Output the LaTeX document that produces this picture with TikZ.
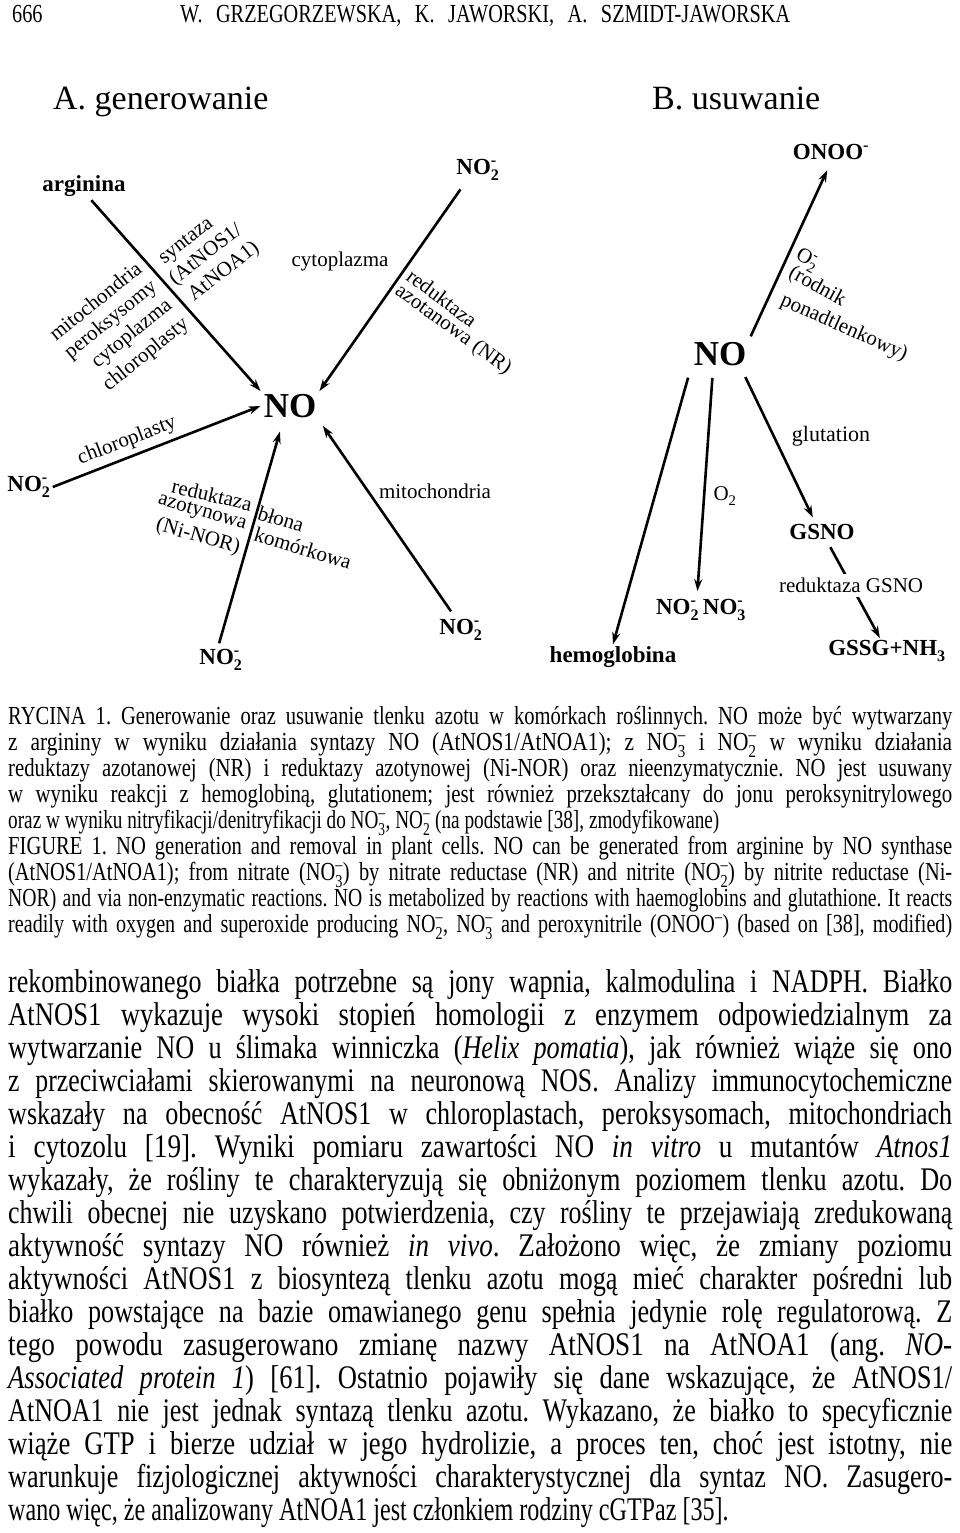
\documentclass[tikz,border=0pt]{standalone}
\usepackage{fontspec}
\usepackage{amsmath}
\usepackage{graphicx}
\usetikzlibrary{arrows.meta}
\setmainfont{Liberation Serif}
\newfontfamily\capfont{Liberation Serif}[FakeStretch=0.74]
\newfontfamily\bodyfont{Liberation Serif}[FakeStretch=0.73]
\newfontfamily\hdrfont{Liberation Serif}[FakeStretch=0.78]
\frenchspacing
\newsavebox\jlbox
\newdimen\jldim
\newcommand\jline[2]{\sbox\jlbox{#2}%
  \ifdim\wd\jlbox>#1\relax\resizebox{#1}{\height}{\usebox\jlbox}%
  \else\jldim=#1\relax\advance\jldim by \wd\jlbox\divide\jldim by 2\relax
    \sbox\jlbox{\makebox[\jldim][s]{#2}}%
    \resizebox{#1}{\height}{\usebox\jlbox}\fi}
\newcommand\chsub[2]{\ensuremath{_{\text{#1}}^{\text{#2}}}}
\newcommand\chsup[1]{\ensuremath{^{\text{#1}}}}
\begin{document}
\begin{tikzpicture}[x=1pt,y=-1pt,
  sp/.style={font=\fontsize{23}{27}\selectfont\bfseries, inner sep=2pt},
  lbl/.style={font=\fontsize{21}{24}\selectfont, inner sep=0.5pt},
  bigno/.style={font=\fontsize{35}{40}\selectfont\bfseries, inner sep=3pt},
  ttl/.style={font=\fontsize{34}{40}\selectfont, anchor=base west, inner sep=0pt},
  arr/.style={line width=2.6pt, -{Stealth[length=12pt,width=8pt]}},
  hdr/.style={font=\hdrfont\fontsize{26}{26}\selectfont, anchor=base west, inner sep=0pt},
  capl/.style={font=\capfont\fontsize{26}{26}\selectfont, anchor=base west, inner sep=0pt},
  bodyl/.style={font=\bodyfont\fontsize{33}{33}\selectfont, anchor=base west, inner sep=0pt}]
\useasboundingbox (0,0) rectangle (960,1533);
\fill[white] (0,0) rectangle (960,1533);

% header
\node[hdr] (pg) at (12,23) {666};
\node[hdr] (au) at (180,23) {\makebox[610pt][s]{W. GRZEGORZEWSKA, K. JAWORSKI, A. SZMIDT-JAWORSKA}};

% titles
\node[ttl] (tA) at (53,110) {A. generowanie};
\node[ttl] (tB) at (652,110) {B. usuwanie};

% ---- A. generowanie
\node[sp] (arg) at (84,186) {arginina};
\node[sp] (no2t) at (478,170) {NO\chsub{2}{-}};
\node[bigno] (noA) at (290,406) {NO};
\node[sp] (no2l) at (29,487) {NO\chsub{2}{-}};
\node[sp] (no2b) at (221,660) {NO\chsub{2}{-}};
\node[sp] (no2r) at (461,630) {NO\chsub{2}{-}};

\node[lbl, rotate=39] (l1) at (95,301) {mitochondria};
\node[lbl, rotate=39] (l2) at (111,320) {peroksysomy};
\node[lbl, rotate=39] (l3) at (132,334) {cytoplazma};
\node[lbl, rotate=39] (l4) at (146,355) {chloroplasty};
\node[lbl, rotate=38] (l5) at (187,242) {syntaza};
\node[lbl, rotate=38] (l6) at (206,255) {(AtNOS1/};
\node[lbl, rotate=38] (l7) at (224,272) {AtNOA1)};
\node[lbl] (l8) at (340,261) {cytoplazma};
\node[lbl, rotate=-37] (l9) at (442,298) {reduktaza};
\node[lbl, rotate=-36] (l10) at (453,330) {azotanowa (NR)};
\node[lbl, rotate=21] (l11) at (127,441) {chloroplasty};
\node[lbl, rotate=-13] (l12) at (212,495) {reduktaza};
\node[lbl, rotate=-16] (l13) at (202,513) {azotynowa};
\node[lbl, rotate=-16] (l14) at (198,537) {(Ni-NOR)};
\node[lbl, rotate=-17] (l15) at (281,519) {błona};
\node[lbl, rotate=-17] (l16) at (303,548) {komórkowa};
\node[lbl] (l17) at (435,491) {mitochondria};

\draw[arr, shorten <=2pt] ([xshift=6pt]arg.south) -- (noA.north west);
\draw[arr, shorten <=8pt] ([xshift=-13pt]no2t.south) -- (noA.north east);
\draw[arr] (no2l.east) -- (noA.west);
\draw[arr, shorten <=4pt, shorten >=11pt] ([xshift=-3pt]no2b.north) -- ([xshift=-7pt]noA.south);
\draw[arr, shorten <=7pt, shorten >=6pt] ([xshift=-6pt]no2r.north) -- (noA.south east);

% ---- B. usuwanie
\node[sp] (onoo) at (831,152) {ONOO\chsup{-}};
\node[bigno] (noB) at (720,354) {NO};
\node[lbl, rotate=-29] (o2m) at (807,260) {O\chsub{2}{-}};
\node[lbl, rotate=-29] (rod) at (817,287) {(rodnik};
\node[lbl, rotate=-24] (pon) at (844,328) {ponadtlenkowy)};
\node[sp] (hemo) at (613,657) {hemoglobina};
\node[lbl] (o2) at (725,496) {O\chsub{2}{}};
\node[sp] (nono) at (701,610) {NO\chsub{2}{-}\,NO\chsub{3}{-}};
\node[lbl, font=\fontsize{22}{24}\selectfont] (glu) at (831,436) {glutation};
\node[sp] (gsno) at (822,532) {GSNO};
\node[sp] (gssg) at (887,651) {GSSG+NH\chsub{3}{}};

\draw[arr, shorten <=3pt, shorten >=9pt] (noB.north east) -- (onoo.south);
\draw[arr, shorten <=9pt] (noB.south west) -- (hemo.north);
\draw[arr, shorten <=9pt, shorten >=6pt] ([xshift=-7pt]noB.south) -- ([xshift=-4pt]nono.north);
\draw[arr, shorten <=9pt, shorten >=5pt] ([xshift=-8pt]noB.south east) -- ([xshift=-7pt]gsno.north);
\draw[arr, shorten <=6pt] (gsno) -- node[lbl, fill=white, inner sep=4pt, pos=0.45] (rgs) {reduktaza GSNO} (gssg);

% ---- caption
\node[capl] (c1) at (8,724) {\jline{944pt}{RYCINA 1. Generowanie oraz usuwanie tlenku  azotu w komórkach roślinnych. NO może być wytwarzany}};
\node[capl] (c2) at (8,750) {\jline{944pt}{z argininy w wyniku działania syntazy NO (AtNOS1/AtNOA1); z NO\chsub{3}{–} i NO\chsub{2}{–} w wyniku działania}};
\node[capl] (c3) at (8,776) {\jline{944pt}{reduktazy azotanowej (NR) i reduktazy azotynowej (Ni-NOR) oraz  nieenzymatycznie. NO jest usuwany}};
\node[capl] (c4) at (8,802) {\jline{944pt}{w wyniku reakcji z hemoglobiną, glutationem; jest również przekształcany do jonu peroksynitrylowego}};
\node[capl] (c5) at (8,828) {oraz w wyniku nitryfikacji/denitryfikacji do NO\chsub{3}{–}, NO\chsub{2}{–} (na podstawie [38], zmodyfikowane)};
\node[capl] (c6) at (8,854) {\jline{944pt}{FIGURE 1. NO generation and  removal in plant cells. NO can  be generated from arginine by NO synthase}};
\node[capl] (c7) at (8,880) {\jline{944pt}{(AtNOS1/AtNOA1); from nitrate (NO\chsub{3}{–}) by nitrate reductase (NR) and nitrite (NO\chsub{2}{–}) by nitrite reductase (Ni-}};
\node[capl] (c8) at (8,906) {\jline{944pt}{NOR) and via non-enzymatic reactions. NO is metabolized by reactions with haemoglobins and glutathione. It reacts}};
\node[capl] (c9) at (8,932) {\jline{944pt}{readily with oxygen and superoxide producing NO\chsub{2}{–}, NO\chsub{3}{–} and peroxynitrile (ONOO\chsup{–}) (based on [38], modified)}};

% ---- body text
\node[bodyl] (b1) at (8,992) {\jline{944pt}{rekombinowanego białka potrzebne są jony wapnia, kalmodulina i NADPH. Białko}};
\node[bodyl] (b2) at (8,1025) {\jline{944pt}{AtNOS1 wykazuje wysoki stopień homologii z enzymem odpowiedzialnym za}};
\node[bodyl] (b3) at (8,1058) {\jline{944pt}{wytwarzanie NO u ślimaka winniczka (\textit{Helix pomatia}), jak również wiąże się ono}};
\node[bodyl] (b4) at (8,1091) {\jline{944pt}{z przeciwciałami skierowanymi na neuronową NOS. Analizy immunocytochemiczne}};
\node[bodyl] (b5) at (8,1124) {\jline{944pt}{wskazały na obecność AtNOS1 w chloroplastach, peroksysomach, mitochondriach}};
\node[bodyl] (b6) at (8,1157) {\jline{944pt}{i cytozolu [19]. Wyniki pomiaru zawartości NO \textit{in vitro} u mutantów \textit{Atnos1}}};
\node[bodyl] (b7) at (8,1190) {\jline{944pt}{wykazały, że rośliny te charakteryzują się obniżonym poziomem tlenku azotu. Do}};
\node[bodyl] (b8) at (8,1223) {\jline{944pt}{chwili obecnej nie uzyskano potwierdzenia, czy rośliny te przejawiają zredukowaną}};
\node[bodyl] (b9) at (8,1256) {\jline{944pt}{aktywność syntazy NO również \textit{in vivo}. Założono więc, że zmiany poziomu}};
\node[bodyl] (b10) at (8,1289) {\jline{944pt}{aktywności AtNOS1 z biosyntezą tlenku azotu mogą mieć charakter pośredni lub}};
\node[bodyl] (b11) at (8,1322) {\jline{944pt}{białko powstające na bazie omawianego genu spełnia jedynie rolę regulatorową. Z}};
\node[bodyl] (b12) at (8,1355) {\jline{944pt}{tego powodu zasugerowano zmianę nazwy AtNOS1 na AtNOA1 (ang. \textit{NO-}}};
\node[bodyl] (b13) at (8,1388) {\jline{944pt}{\textit{Associated protein 1}) [61]. Ostatnio pojawiły się dane wskazujące, że AtNOS1/}};
\node[bodyl] (b14) at (8,1421) {\jline{944pt}{AtNOA1 nie jest jednak syntazą tlenku azotu. Wykazano, że białko to specyficznie}};
\node[bodyl] (b15) at (8,1454) {\jline{944pt}{wiąże GTP i bierze udział w jego hydrolizie, a proces ten, choć jest istotny, nie}};
\node[bodyl] (b16) at (8,1487) {\jline{944pt}{warunkuje fizjologicznej aktywności charakterystycznej dla syntaz NO. Zasugero-}};
\node[bodyl] (b17) at (8,1520) {wano więc, że analizowany AtNOA1 jest członkiem rodziny cGTPaz [35].};
\end{tikzpicture}
\end{document}
